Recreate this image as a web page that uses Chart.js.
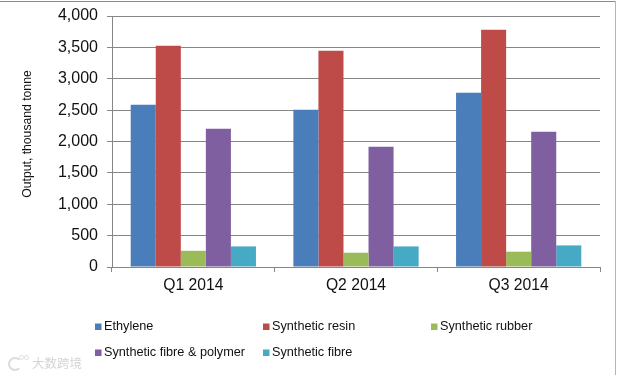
<!DOCTYPE html>
<html>
<head>
<meta charset="utf-8">
<style>
html, body { margin: 0; padding: 0; background: #fff; }
#wrap { position: relative; width: 617px; height: 375px; overflow: hidden; }
#chart { position: absolute; left: 0; top: 0; }
/* picture frame: top and right edges only */
#top { position: absolute; left: 0; top: 1px; width: 616px; height: 1px; background: #8a8a8a; }
#right { position: absolute; left: 615px; top: 1px; width: 1px; height: 374px; background: #b5b5b5; }
/* faint watermark, bottom left */
#mark { position: absolute; left: 32px; top: 353px; font: 12.5px "Noto Sans CJK SC"; color: #d4d4d4; }
#bubble { position: absolute; left: 8px; top: 357px; width: 10px; height: 10px; border: 2px solid #dcdcdc; border-right-color: transparent; border-radius: 50%; }
#dot1, #dot2 { position: absolute; top: 355px; width: 3px; height: 3px; border: 1px solid #dcdcdc; border-radius: 50%; }
#dot1 { left: 19px; }
#dot2 { left: 24px; }
</style>
</head>
<body>
<div id="wrap">
  <canvas id="chart" width="617" height="375"></canvas>
  <div id="top"></div>
  <div id="right"></div>
  <div id="bubble"></div><div id="dot1"></div><div id="dot2"></div>
  <div id="mark">大数跨境</div>
</div>
<script src="https://cdn.jsdelivr.net/npm/chart.js@4"></script>
<script>
const quarters = ['Q1 2014', 'Q2 2014', 'Q3 2014'];
const ethylene = [2585, 2505, 2778];
const resin = [3525, 3447, 3782];
const rubber = [258, 228, 244];
const polymer = [2204, 1917, 2156];
const fibre = [328, 328, 344];
const yTitle = 'Output, thousand tonne';

const gray = '#868686';
const font = 'Liberation Sans, Arial, sans-serif';

// legend sits in a fixed 3 column grid, which the built in one can't do.
// the y title also sits above the axis centre, so it is drawn here too
const extras = {
    id: 'extras',
    afterDraw: function(chart) {
        const ctx = chart.ctx;
        const cols = [94, 262, 430];
        const rows = [326.5, 352.5];
        ctx.save();
        ctx.font = '12.7px ' + font;
        ctx.textBaseline = 'middle';
        chart.data.datasets.forEach(function(ds, i) {
            const x = cols[i % 3];
            const y = rows[Math.floor(i / 3)];
            ctx.fillStyle = ds.backgroundColor;
            ctx.fillRect(x + 1, y - 3, 6.5, 6.5);
            ctx.fillStyle = '#111';
            ctx.fillText(ds.label, x + 10, y);
        });
        ctx.translate(28, 134);
        ctx.rotate(-Math.PI / 2);
        ctx.font = '12.2px ' + font;
        ctx.textAlign = 'center';
        ctx.fillText(yTitle, 0, 0);
        ctx.restore();
    }
};

const ctx = document.getElementById('chart').getContext('2d');
const chart = new Chart(ctx, {
    type: 'bar',
    data: {
        labels: quarters,
        datasets: [
            { label: 'Ethylene', data: ethylene, backgroundColor: '#4a7ebb' },
            { label: 'Synthetic resin', data: resin, backgroundColor: '#be4b48' },
            { label: 'Synthetic rubber', data: rubber, backgroundColor: '#9bbb59' },
            { label: 'Synthetic fibre & polymer', data: polymer, backgroundColor: '#7f5f9f' },
            { label: 'Synthetic fibre', data: fibre, backgroundColor: '#46aac5' }
        ]
    },
    plugins: [extras],
    options: {
        responsive: false,
        animation: false,
        layout: { padding: { top: 16, right: 17, bottom: 0, left: 0 } },
        categoryPercentage: 0.77,
        barPercentage: 1,
        plugins: {
            legend: { display: false },
            tooltip: { enabled: false }
        },
        scales: {
            x: {
                afterFit: function(scale) { scale.height = 108; },
                grid: { drawOnChartArea: false, color: gray, tickLength: 5 },
                border: { color: gray },
                ticks: { color: '#111', font: { family: font, size: 15.7 }, padding: 4 }
            },
            y: {
                min: 0,
                max: 4000,
                afterFit: function(scale) {
                    scale.width = 112;
                    scale.paddingTop = 0; // otherwise the top label pushes the plot down
                },
                grid: { color: gray, tickLength: 5 },
                border: { color: gray },
                ticks: {
                    stepSize: 500,
                    color: '#111',
                    font: { family: font, size: 16 },
                    padding: 9,
                    callback: function(v) { return v.toLocaleString('en-US'); }
                }
            }
        }
    }
});
</script>
</body>
</html>
